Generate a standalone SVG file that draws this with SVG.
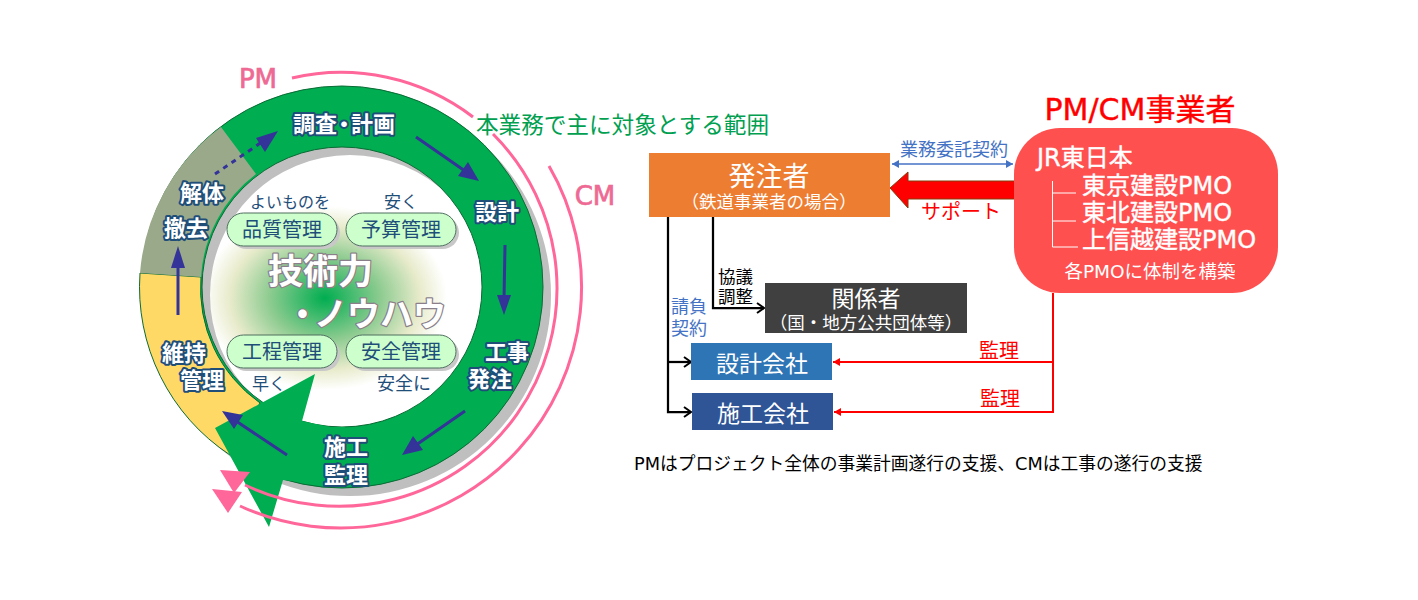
<svg xmlns="http://www.w3.org/2000/svg" width="1418" height="600" viewBox="0 0 1418 600">
<style>
text{font-family:"Noto Sans CJK JP","Noto Sans",sans-serif}
.lat{font-family:"DejaVu Sans","Noto Sans CJK JP",sans-serif}
.m{text-anchor:middle}
.ring{font-size:22px;font-weight:700;fill:#fff;stroke:#1F4E79;stroke-width:4px;paint-order:stroke;stroke-linejoin:round;text-anchor:middle}
.tech{font-weight:700;fill:#fff;stroke:#8a7f8a;stroke-width:2.5px;paint-order:stroke;stroke-linejoin:round}
.pill{fill:#CCFFCC;stroke:#4f6f5f;stroke-width:1}
.pills{fill:#C8C8C8}
.pt{font-size:20px;fill:#1F4E79;text-anchor:middle}
.cap{font-size:17px;fill:#1F4E79;text-anchor:middle}
.blue{stroke:#333399;stroke-width:3;fill:none}
.bh{fill:#333399}
.pink{stroke:#FF6699;stroke-width:3;fill:none}
.pl{font-size:26px;fill:#EE6A94;stroke:#EE6A94;stroke-width:.7px}
.w{fill:#fff;text-anchor:middle}
.blk{stroke:#000;stroke-width:2.25;fill:none}
.red{stroke:#f00;stroke-width:2;fill:none}
.tree{stroke:#fff;stroke-width:1;fill:none}
.pmo{font-size:24px;fill:#fff;stroke:#fff;stroke-width:.4px}
</style>
<defs>
<radialGradient id="g" cx="325" cy="298" r="1" gradientUnits="userSpaceOnUse" gradientTransform="translate(325 298) scale(122 92) translate(-325 -298)">
<stop offset="0" stop-color="#00AD50"/><stop offset=".45" stop-color="#8CCB90"/><stop offset=".78" stop-color="#E8EBCB"/><stop offset="1" stop-color="#fff"/>
</radialGradient>
<marker id="oa" markerWidth="12" markerHeight="12" refX="10" refY="6" orient="auto" markerUnits="userSpaceOnUse"><path d="M3,1 L10,6 L3,11" fill="none" stroke="#000" stroke-width="2"/></marker>
<marker id="ra" markerWidth="9" markerHeight="8" refX="7" refY="4" orient="auto" markerUnits="userSpaceOnUse"><path d="M0,0 L7,4 L0,8Z" fill="#f00"/></marker>
<marker id="ba" markerWidth="9" markerHeight="8" refX="7" refY="4" orient="auto-start-reverse" markerUnits="userSpaceOnUse"><path d="M0,0 L7,4 L0,8Z" fill="#4472C4"/></marker>
</defs>

<g id="cycle">
<circle cx="342" cy="287" r="140" fill="#fff"/>
<ellipse cx="325" cy="298" rx="122" ry="92" fill="url(#g)"/>
<path d="M149,295a201,201 0 1,0 402,0a201,201 0 1,0 -402,0ZM210,295a140,140 0 1,0 280,0a140,140 0 1,0 -280,0Z" fill="#BFBFBF" fill-rule="evenodd"/>
<path d="M141,287a201,201 0 1,0 402,0a201,201 0 1,0 -402,0ZM202,287a140,140 0 1,0 280,0a140,140 0 1,0 -280,0Z" fill="#00AD50" stroke="#0B6B35" stroke-width="1" fill-rule="evenodd"/>
<path d="M140,273A201,201 0 0 0 230,455L260,403A140,140 0 0 1 201,277Z" fill="#FFD966" stroke="#0B6B35" stroke-width="1"/>
<path d="M221,127A201,201 0 0 0 140,273L201,277A140,140 0 0 1 256,174Z" fill="#9AA98A"/>
<polygon points="315,374 302,421 330,427 345,427 345,487 283,480 269,527 215,428" fill="#00AD50"/>
</g>

<g id="pm-cm-arcs">
<path class="pink" d="M292,78A218,218 0 0 1 473,117"/>
<path class="pink" d="M493,134A218,218 0 0 1 245,485"/>
<path class="pink" d="M549,166A241,241 0 0 1 240,506"/>
<polygon points="220,470 250,472 234,493" fill="#FF6699"/>
<polygon points="212,489 242,492 228,513" fill="#FF6699"/>
<text x="258" y="88" class="m lat pl">PM</text>
<text x="595" y="205" class="m lat pl">CM</text>
</g>

<g id="cycle-arrows">
<path class="blue" stroke-dasharray="5 5" d="M215,174L262,142"/><polygon class="bh" points="278,131 265,152 256,138"/>
<path class="blue" d="M416,137L465,171"/><polygon class="bh" points="479,181 458,176 468,162"/>
<path class="blue" d="M505,245L504,300"/><polygon class="bh" points="504,315 497,295 511,295"/>
<path class="blue" d="M465,411L416,445"/><polygon class="bh" points="402,455 413,436 423,450"/>
<path class="blue" d="M287,455L236,421"/><polygon class="bh" points="222,411 243,415 234,429"/>
<path class="blue" d="M178,315L178,260"/><polygon class="bh" points="178,246 171,268 185,268"/>
</g>

<g id="phase-labels">
<text class="ring" x="344" y="132">調査<tspan dx="-4">・</tspan><tspan dx="-4">計画</tspan></text>
<text class="ring" x="497" y="220">設計</text>
<text class="ring" x="507" y="360">工事</text>
<text class="ring" x="490" y="387">発注</text>
<text class="ring" x="346" y="455">施工</text>
<text class="ring" x="346" y="483">監理</text>
<text class="ring" x="184" y="361">維持</text>
<text class="ring" x="202" y="388">管理</text>
<text class="ring" x="186" y="236">撤去</text>
<text class="ring" x="202" y="201">解体</text>
</g>

<g id="core">
<text class="tech" x="268" y="284" style="font-size:35px">技術力</text>
<text class="tech" x="286" y="326" style="font-size:33px">・<tspan dx="-5">ノウハウ</tspan></text>
<text class="cap" x="290" y="208" style="font-size:16px">よいものを</text>
<text class="cap" x="401" y="208">安く</text>
<text class="cap" x="269" y="390">早く</text>
<text class="cap" x="404" y="390" style="font-size:18px">安全に</text>
</g>
<g id="pill-quality"><rect class="pills" x="230" y="216" width="110" height="33" rx="16.5"/><rect class="pill" x="227" y="213" width="110" height="33" rx="16.5"/><text class="pt" x="282" y="237">品質管理</text></g>
<g id="pill-budget"><rect class="pills" x="349" y="216" width="110" height="33" rx="16.5"/><rect class="pill" x="346" y="213" width="110" height="33" rx="16.5"/><text class="pt" x="401" y="237">予算管理</text></g>
<g id="pill-schedule"><rect class="pills" x="230" y="338" width="110" height="33" rx="16.5"/><rect class="pill" x="227" y="335" width="110" height="33" rx="16.5"/><text class="pt" x="282" y="359">工程管理</text></g>
<g id="pill-safety"><rect class="pills" x="349" y="338" width="110" height="33" rx="16.5"/><rect class="pill" x="346" y="335" width="110" height="33" rx="16.5"/><text class="pt" x="401" y="359">安全管理</text></g>

<text id="scope" x="476" y="133" style="font-size:22.6px;fill:#00A050">本業務で主に対象とする範囲</text>

<g id="connectors">
<path class="blk" d="M668,217V412H691" marker-end="url(#oa)"/>
<path class="blk" d="M668,362H691" marker-end="url(#oa)"/>
<path class="blk" d="M713,217V308H764" marker-end="url(#oa)"/>
<path class="red" d="M1053,293V412H834" marker-end="url(#ra)"/>
<path class="red" d="M1053,362H833" marker-end="url(#ra)"/>
<path d="M892,164H1013" stroke="#4472C4" stroke-width="1.5" fill="none" marker-start="url(#ba)" marker-end="url(#ba)"/>
<polygon points="890,188 908,172 908,181 1016,181 1016,199 908,199 908,208" fill="#f00" stroke="#843C0C" stroke-width="1"/>
<text x="954" y="156" class="m" style="font-size:18px;fill:#4472C4">業務委託契約</text>
<text x="961" y="219" class="m" style="font-size:20px;fill:#f00">サポート</text>
<text x="718" y="283" style="font-size:17.5px;fill:#000">協議</text>
<text x="718" y="303" style="font-size:17.5px;fill:#000">調整</text>
<text x="671" y="313" style="font-size:18px;fill:#4472C4">請負</text>
<text x="671" y="335" style="font-size:18px;fill:#4472C4">契約</text>
<text x="999" y="358" class="m" style="font-size:20px;fill:#f00">監理</text>
<text x="1000" y="406" class="m" style="font-size:20px;fill:#f00">監理</text>
</g>

<g id="client"><rect x="649" y="153" width="241" height="64" fill="#ED7D31"/><text class="w" x="769" y="186" style="font-size:27px">発注者</text><text class="w" x="769" y="208" style="font-size:17.5px">（鉄道事業者の場合）</text></g>
<g id="stakeholders"><rect x="765" y="283" width="202" height="50" fill="#404040"/><text class="w" x="866" y="307" style="font-size:23px">関係者</text><text class="w" x="866" y="329" style="font-size:17.5px">（国・地方公共団体等）</text></g>
<g id="designer"><rect x="691" y="343" width="141" height="37" fill="#2E75B6"/><text class="w" x="762" y="372" style="font-size:23px">設計会社</text></g>
<g id="builder"><rect x="692" y="393" width="141" height="37" fill="#2F5597"/><text class="w" x="763" y="422" style="font-size:23px">施工会社</text></g>

<g id="pmcm">
<text x="1140" y="120" class="m lat" style="font-size:30px;fill:#f00;stroke:#f00;stroke-width:.4px">PM/CM事業者</text>
<rect x="1014" y="128" width="264" height="165" rx="46" fill="#FF5050"/>
<text x="1037" y="166" class="lat pmo">JR東日本</text>
<path class="tree" d="M1052.5,181V247H1078M1052.5,193H1076M1052.5,221H1076"/>
<text class="pmo lat" x="1082" y="194">東京建設PMO</text>
<text class="pmo lat" x="1082" y="221">東北建設PMO</text>
<text class="pmo lat" x="1082" y="248">上信越建設PMO</text>
<text class="w lat" x="1150" y="278" style="font-size:18.5px">各PMOに体制を構築</text>
</g>

<text id="note" class="lat" x="634" y="470" style="font-size:17.75px;fill:#000">PMはプロジェクト全体の事業計画遂行の支援、CMは工事の遂行の支援</text>
</svg>
